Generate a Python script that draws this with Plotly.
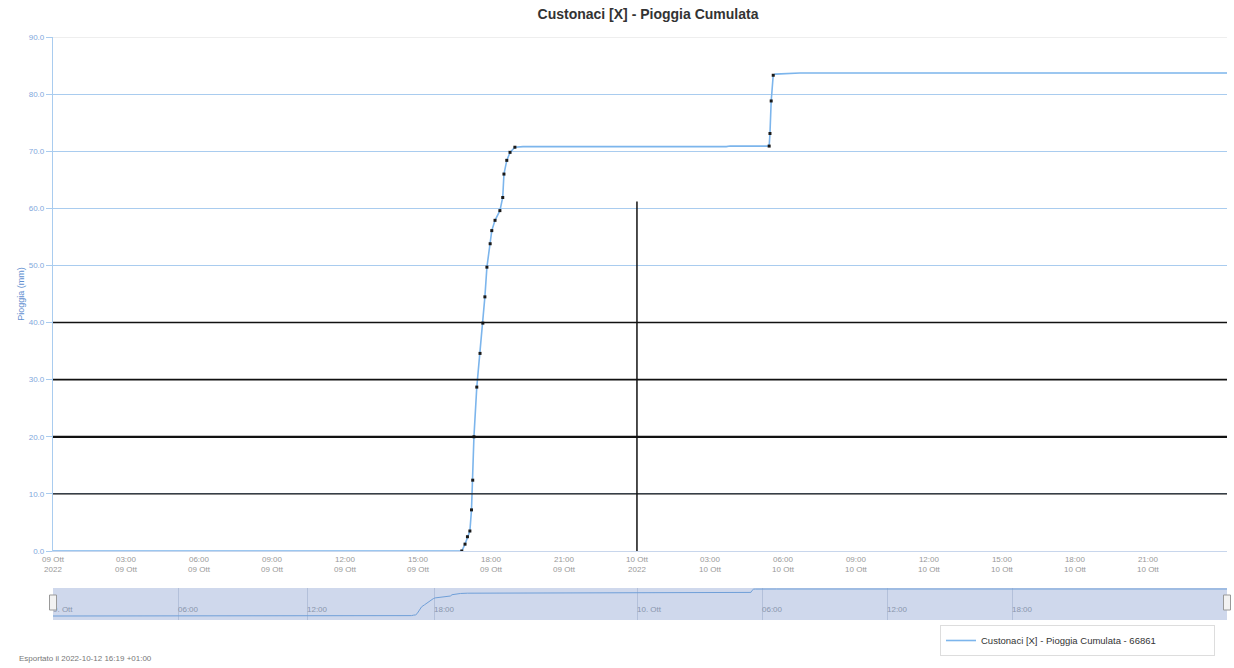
import numpy as np
import pandas as pd
import plotly.graph_objects as go

# ---------------- data ----------------
times = [
    "2022-10-09 00:00", "2022-10-09 16:48", "2022-10-09 16:56", "2022-10-09 17:02",
    "2022-10-09 17:08", "2022-10-09 17:12", "2022-10-09 17:15", "2022-10-09 17:18",
    "2022-10-09 17:25", "2022-10-09 17:33", "2022-10-09 17:40", "2022-10-09 17:45",
    "2022-10-09 17:50", "2022-10-09 17:58", "2022-10-09 18:02", "2022-10-09 18:10",
    "2022-10-09 18:22", "2022-10-09 18:29", "2022-10-09 18:32", "2022-10-09 18:39",
    "2022-10-09 18:47", "2022-10-09 18:59", "2022-10-09 19:19", "2022-10-10 03:40",
    "2022-10-10 03:50", "2022-10-10 05:26", "2022-10-10 05:28", "2022-10-10 05:31",
    "2022-10-10 05:36", "2022-10-10 05:41", "2022-10-10 06:42", "2022-10-11 00:15",
]
rain_mm = [
    0.0, 0.0, 1.2, 2.5,
    3.5, 7.2, 12.4, 20.0,
    28.7, 34.6, 39.9, 44.5,
    49.7, 53.8, 56.1, 57.9,
    59.6, 61.9, 66.0, 68.4,
    69.8, 70.7, 70.8, 70.8,
    70.9, 70.9, 73.1, 78.8,
    83.3, 83.5, 83.7, 83.7,
]
series_name = "Custonaci [X] - Pioggia Cumulata - 66861"
title_text = "Custonaci [X] - Pioggia Cumulata"
footer_text = "Esportato il 2022-10-12 16:19 +01:00"
y_title = "Pioggia (mm)"

x_tick_times = [
    "2022-10-09 00:00", "2022-10-09 03:00", "2022-10-09 06:00", "2022-10-09 09:00",
    "2022-10-09 12:00", "2022-10-09 15:00", "2022-10-09 18:00", "2022-10-09 21:00",
    "2022-10-10 00:00", "2022-10-10 03:00", "2022-10-10 06:00", "2022-10-10 09:00",
    "2022-10-10 12:00", "2022-10-10 15:00", "2022-10-10 18:00", "2022-10-10 21:00",
]
x_tick_labels = [
    "09 Ott<br>2022", "03:00<br>09 Ott", "06:00<br>09 Ott", "09:00<br>09 Ott",
    "12:00<br>09 Ott", "15:00<br>09 Ott", "18:00<br>09 Ott", "21:00<br>09 Ott",
    "10 Ott<br>2022", "03:00<br>10 Ott", "06:00<br>10 Ott", "09:00<br>10 Ott",
    "12:00<br>10 Ott", "15:00<br>10 Ott", "18:00<br>10 Ott", "21:00<br>10 Ott",
]
y_ticks = [0, 10, 20, 30, 40, 50, 60, 70, 80, 90]

# navigator (ordinal-like) axis: hours since start -> navigator units
nav_anchor_hours = [0, 6, 12, 18, 24, 30, 36, 42, 48.25]
nav_anchor_units = [53, 178, 307, 434, 637, 762, 887, 1012, 1227]
nav_tick_labels = ["9. Ott", "06:00", "12:00", "18:00", "10. Ott", "06:00", "12:00", "18:00"]

x_start = "2022-10-09 00:00"
x_end = "2022-10-11 00:15"

# ---------------- figure ----------------
W, H = 1234, 668
ML, MR, MT, MB = 53, 7, 37, 48
plot_w = W - ML - MR
plot_h = H - MT - MB
main_bottom = (620 - 551) / plot_h
nav_top = 32 / plot_h

t = pd.to_datetime(times)
hours = (t - pd.Timestamp(x_start)).total_seconds().values / 3600.0
nav_x = np.interp(hours, nav_anchor_hours, nav_anchor_units)

vals = np.array(rain_mm)
diffs = np.diff(vals, prepend=vals[0])
nxt = np.diff(vals, append=vals[-1])
rising = (diffs > 0.3) | (nxt > 0.3)

line_color = "#7cb5ec"

fig = go.Figure()
fig.add_trace(go.Scatter(
    x=t, y=vals, mode="lines", name=series_name,
    line=dict(color=line_color, width=1.6),
    xaxis="x", yaxis="y",
))
fig.add_trace(go.Scatter(
    x=t[rising], y=vals[rising], mode="markers", showlegend=False,
    marker=dict(size=3, color="#1a1a1a", symbol="square", line=dict(width=0)),
    xaxis="x", yaxis="y", hoverinfo="skip",
))
fig.add_trace(go.Scatter(
    x=nav_x, y=vals, mode="lines", showlegend=False,
    line=dict(color="#6f9fd8", width=1),
    xaxis="x2", yaxis="y2", hoverinfo="skip",
))

shapes = []
# navigator background
shapes.append(dict(type="rect", xref="x2 domain", yref="y2 domain", x0=0, x1=1, y0=0, y1=1,
                   fillcolor="#cfd8ec", line=dict(width=0), layer="below"))
# dark grid lines (as rendered in the reference)
for yv, w in [(10, 1.2), (20, 2.2), (30, 1.6), (40, 1.6)]:
    shapes.append(dict(type="line", xref="x domain", yref="y", x0=0, x1=1, y0=yv, y1=yv,
                       line=dict(color="#111111", width=w), layer="above"))
# top border
shapes.append(dict(type="line", xref="x domain", yref="y", x0=0, x1=1, y0=90, y1=90,
                   line=dict(color="#e8e8e8", width=1.5), layer="above"))
# vertical black line at day boundary
shapes.append(dict(type="line", xref="x", yref="y", x0="2022-10-10 00:00", x1="2022-10-10 00:00",
                   y0=0, y1=61.2, line=dict(color="#111111", width=1.5), layer="above"))
# navigator handles
for px in [ML, W - MR]:
    xc = (px - ML) / plot_w
    shapes.append(dict(type="rect", xref="paper", yref="paper",
                       x0=xc - 3.5 / plot_w, x1=xc + 3.5 / plot_w,
                       y0=(620 - 610) / plot_h, y1=(620 - 595) / plot_h,
                       fillcolor="#f2f2f2", line=dict(color="#999999", width=1)))

annotations = [
    dict(text=footer_text, xref="paper", yref="paper",
         x=(17 - ML) / plot_w, y=(620 - 658) / plot_h,
         xanchor="left", yanchor="middle", showarrow=False,
         font=dict(size=8, color="#777777")),
]

fig.update_layout(
    width=W, height=H,
    margin=dict(l=ML, r=MR, t=MT, b=MB, autoexpand=False),
    paper_bgcolor="white", plot_bgcolor="white",
    font=dict(family="Liberation Sans, Arial, sans-serif"),
    title=dict(text="<b>" + title_text + "</b>", x=(648 - ML) / plot_w, xref="paper",
               y=1 - 14 / H, yref="container", xanchor="center", yanchor="middle",
               font=dict(size=14, color="#333333")),
    xaxis=dict(domain=[0, 1], anchor="y", type="date", range=[x_start, x_end],
               tickmode="array", tickvals=x_tick_times, ticktext=x_tick_labels,
               showgrid=False, zeroline=False, showline=True, linecolor="#c8d6ec",
               ticks="", tickfont=dict(size=8, color="#999999"), automargin=False),
    yaxis=dict(domain=[main_bottom, 1], anchor="x", range=[0, 90],
               tickmode="array", tickvals=y_ticks, tickformat=".1f",
               showgrid=True, gridcolor="#a9ccef", gridwidth=1.2, zeroline=False,
               showline=True, linecolor="#a9ccef", linewidth=1.2,
               ticks="outside", ticklen=6, tickcolor="#a9ccef",
               tickfont=dict(size=8, color="#7fa8dc"),
               title=dict(text=y_title, font=dict(size=9, color="#5f8fd0"), standoff=2),
               automargin=False),
    xaxis2=dict(domain=[0, 1], anchor="y2", range=[nav_anchor_units[0], nav_anchor_units[-1]],
                tickmode="array", tickvals=nav_anchor_units[:-1], ticktext=nav_tick_labels,
                ticklabelposition="inside right", ticks="",
                showgrid=True, gridcolor="#b3c0da", zeroline=False, showline=False,
                tickfont=dict(size=8, color="#8a96ac"), automargin=False),
    yaxis2=dict(domain=[0, nav_top], anchor="x2", range=[-12.4, 86.8],
                showgrid=False, zeroline=False, showticklabels=False, automargin=False),
    showlegend=True,
    legend=dict(x=(940 - ML) / plot_w, y=(620 - 625) / plot_h,
                xanchor="left", yanchor="top", orientation="h",
                bordercolor="#dddddd", borderwidth=1, bgcolor="white",
                font=dict(size=9.5, color="#333333"), itemwidth=30,
                entrywidth=228, entrywidthmode="pixels"),
    shapes=shapes,
    annotations=annotations,
)

fig.write_html("out.html", config={"displayModeBar": False},
               post_script="document.body.style.margin='0';")
